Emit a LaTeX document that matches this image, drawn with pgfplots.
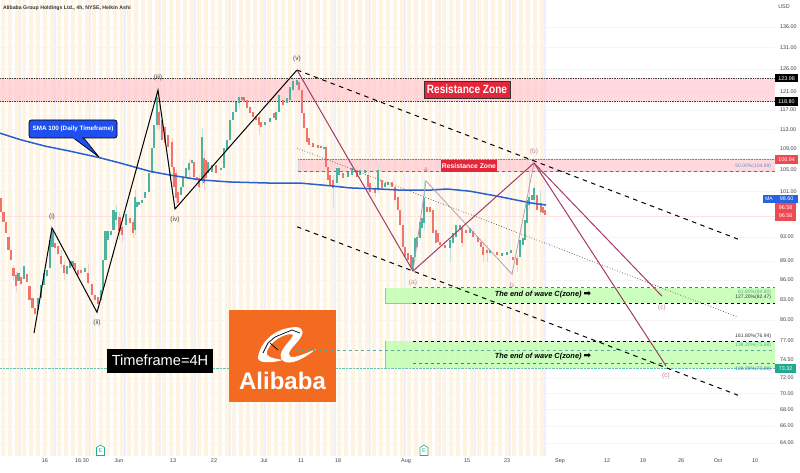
\documentclass[border=0pt]{standalone}
\usepackage{pgfplots}
\usepackage{pgfplotstable}
\usepackage{fontspec}
\setmainfont{Liberation Sans}
\newfontfamily\dv{DejaVu Sans}
\pgfplotsset{compat=1.18}
\definecolor{cG}{HTML}{4DB39F}
\definecolor{cR}{HTML}{F0736C}
\definecolor{wG}{HTML}{BFE5DC}
\definecolor{wR}{HTML}{F9CFCB}
\definecolor{sma}{HTML}{2A5FD0}
\definecolor{pur}{HTML}{A23A6C}
\definecolor{lpur}{HTML}{B89AAC}
\definecolor{fibb}{HTML}{3F78C9}
\definecolor{fibt}{HTML}{4FB0A0}
\definecolor{pinkz}{HTML}{FFC2CA}
\definecolor{greenz}{HTML}{C6FFB6}
\definecolor{tagr}{HTML}{EE4A52}
\definecolor{tagg}{HTML}{22A98F}
\definecolor{strip}{HTML}{FFF3E2}
\definecolor{stripb}{HTML}{EEF1FD}
\newcommand{\fs}[1]{\fontsize{#1}{#1}\selectfont}
\pgfplotstableread{
x hi lo
1 99.8 97.2
3.5 97.2 95.6
6 95.6 93.7
8.5 93.0 90.8
11 90.8 89.2
13.5 87.9 86.6
16 86.8 85.0
21 86.5 85.4
27 87.0 85.7
29.5 85.0 83.0
32.5 83.3 81.7
35 81.8 80.8
55 92.0 91.2
58 91.5 90.2
61 89.8 88.5
64 88.4 87.1
75 88.7 87.6
78 87.6 86.8
81 87.6 87.1
88 87.1 85.6
92 85.4 83.7
95 83.7 83.0
98 83.4 82.4
119.5 96.4 93.9
122 94.7 93.3
130 96.2 95.4
133 95.6 93.7
159 116.6 113.9
162 114.9 110.8
165 113.5 110.2
168 111.8 109.4
172 110.4 105.6
174 105.6 101.8
176 104.4 99.8
178 100.8 98.9
194 106.5 103.7
197 103.7 103.1
199 103.5 101.8
204 107.3 102.5
206 106.9 103.5
216 106.0 104.4
244 119.9 118.8
247 119.2 117.4
250 117.6 116.4
253 116.6 115.5
256 115.5 114.9
259 115.5 113.9
261 114.5 113.5
274 116.4 115.3
283 119.2 118.1
299 123.1 121.3
302 121.3 116.4
304 116.4 113.3
307 113.3 110.4
309 111.2 109.8
313 110.2 109.4
318 109.8 109.2
321 109.6 109.2
326 109.4 105.6
328 105.6 103.1
330 104.0 102.2
333 103.1 101.6
343 104.4 103.5
357 105.0 103.7
368 104.1 101.8
370 102.5 100.8
375 101.6 100.7
382 103.1 101.6
392 102.7 101.8
395 101.8 99.4
398 99.9 97.6
400 97.6 95.0
403 95.0 91.3
405 91.3 89.7
408 90.3 89.2
411 90.0 88.1
427 98.1 97.2
430 98.1 97.2
433 97.6 93.7
436 94.2 92.0
438 93.7 92.2
440 92.2 91.7
445 91.7 91.2
462 94.5 92.0
466 94.2 93.7
473 93.9 93.0
478 93.0 92.2
481 92.2 91.3
483 91.3 90.0
487 90.8 90.3
497 90.5 90.0
513 89.7 89.2
517 89.5 88.4
537 100.3 97.6
541 98.9 97.2
543 98.1 97.1
545 97.6 96.8
}\redt
\pgfplotstableread{
x hi lo
18.5 87.1 85.8
24 88.2 86.2
38 83.3 81.5
41 85.2 83.3
44 87.1 85.2
47 87.6 86.6
50 92.5 87.9
52.5 93.9 91.3
67 88.2 87.0
70 89.0 87.9
72.5 89.0 88.2
85 87.9 87.3
101 84.5 83.0
103 89.2 84.5
105.5 93.9 89.2
108 93.9 92.5
111 94.0 93.3
113.5 97.6 94.2
116 97.2 95.9
126 97.0 95.0
135 99.9 94.2
137 99.0 98.1
139 99.0 98.5
142 99.4 98.9
145 100.8 99.8
149 104.4 100.8
152 109.2 104.4
154 113.9 109.2
157 119.9 113.9
181 101.8 100.3
183 103.7 101.8
186 105.4 103.7
189 106.3 105.0
192 106.9 106.3
202 111.4 103.1
208 106.5 104.4
212 106.0 104.6
221 105.4 105.0
224 109.2 105.4
227 110.8 108.8
230 114.9 110.8
233 116.6 114.9
236 118.8 116.6
239 119.9 118.6
242 119.9 119.2
265 114.5 113.9
270 115.3 114.5
276 116.6 114.9
279 120.2 116.6
287 119.6 118.6
290 122.0 119.2
293 123.4 121.3
297 123.6 122.5
324 109.4 109.0
337 105.4 102.5
339 105.4 104.1
348 104.6 103.7
352 105.4 104.1
360 105.0 104.1
365 105.0 104.4
378 105.0 101.2
385 102.5 101.8
388 102.7 102.2
413 89.7 87.6
415 92.8 89.7
417 93.0 91.3
420 95.6 92.8
422 96.2 94.5
424 99.8 95.4
450 92.5 91.2
453 93.7 92.0
456 95.0 93.0
460 95.0 94.2
470 94.5 93.7
490 90.8 90.3
502 90.3 89.8
507 90.5 90.0
511 90.8 90.3
520 92.5 89.7
523 92.8 91.7
525 95.9 92.5
527 99.4 95.4
529 99.9 98.5
532 100.3 99.4
534 101.6 99.4
}\greent
\pgfplotstableread{
x hi lo
13.5 88.4 86.0
16 87.3 84.2
61 90.8 87.9
64 89.0 86.0
88 88.5 85.3
119.5 97.2 92.5
122 95.0 92.2
133 96.0 92.8
159 118.3 112.9
172 111.2 105.0
176 105.0 98.5
199 104.0 100.8
204 108.8 101.2
259 116.6 111.8
333 104.0 98.1
368 105.0 100.3
375 102.0 99.9
462 95.0 91.3
483 92.2 88.9
517 90.0 87.3
}\redw
\pgfplotstableread{
x hi lo
116 98.5 95.0
135 101.2 93.3
157 121.3 112.9
189 107.0 103.7
202 113.3 102.2
239 121.0 117.4
293 124.1 120.9
378 106.0 100.7
424 103.1 94.2
450 92.8 88.9
487 91.7 88.9
529 106.4 97.6
534 102.0 98.5
540 101.2 96.8
}\greenw
\begin{document}
\begin{tikzpicture}
\useasboundingbox (0,0) rectangle (800pt,472pt);
\begin{axis}[at={(0pt,16pt)},anchor=south west,
  width=775pt,height=456pt,scale only axis,
  ymode=log,xmin=0,xmax=775,ymin=62.52,ymax=142.82,
  axis line style={draw=none},
  major tick length=0pt,minor tick length=0pt,
  ytick={136,131,126,121,117,113,109,105,101,93,89,86,83,80,77,74.5,72,70,68,66,64},
  yticklabels={136.00,131.00,126.00,121.00,117.00,113.00,109.00,105.00,101.00,93.00,89.00,86.00,83.00,80.00,77.00,74.50,72.00,70.00,68.00,66.00,64.00},
  yticklabel pos=right,
  yticklabel style={font=\fs{5.4},text=black!75,anchor=west,xshift=1.5pt},
  ymajorgrids,grid style={draw=black!4,line width=.4pt},
  xtick={45,82,119,173,214,264,301,338,406,467,507,560,607,643,681,718,755},
  xticklabels={16,16:30,Jun,13,22,Jul,11,18,Aug,15,23,Sep,12,19,26,Oct,10},
  xticklabel style={font=\fs{5.4},text=black!75,anchor=center,yshift=-5pt},
  ]
% session stripes
\addplot[ycomb,no marks,color=strip,line width=3.8pt] coordinates {
(3,143)(10,143)(17,143)(24,143)(31,143)(38,143)(45,143)(52,143)(59,143)(66,143)(73,143)(80,143)(87,143)(94,143)(101,143)(108,143)(115,143)(122,143)(129,143)(136,143)(143,143)(150,143)(157,143)(164,143)(171,143)(178,143)(185,143)(192,143)(199,143)(206,143)(213,143)(220,143)(227,143)(234,143)(241,143)(248,143)(255,143)(262,143)(269,143)(276,143)(283,143)(290,143)(297,143)(304,143)(311,143)(318,143)(325,143)(332,143)(339,143)(346,143)(353,143)(360,143)(367,143)(374,143)(381,143)(388,143)(395,143)(402,143)(409,143)(416,143)(423,143)(430,143)(437,143)(444,143)(451,143)(458,143)(465,143)(472,143)(479,143)(486,143)(493,143)(500,143)(507,143)(514,143)(521,143)(528,143)(535,143)(542,143)};
\addplot[ycomb,no marks,color=stripb,line width=2.2pt] coordinates {
(20,143)(55,143)(90,143)(125,143)(160,143)(195,143)(230,143)(265,143)(300,143)(335,143)(370,143)(405,143)(440,143)(475,143)(510,143)(545,143)};
% last price lines
\addplot[color=red!12,line width=.5pt] coordinates {(0,96.56)(775,96.56)};
% zones
\addplot[draw=none,fill=pinkz,fill opacity=.62] coordinates {(0,118.8)(775,118.8)(775,123.98)(0,123.98)} -- cycle;
\addplot[draw=black!75,densely dotted,line width=.7pt] coordinates {(0,123.98)(775,123.98)};
\addplot[draw=black!75,densely dotted,line width=.7pt] coordinates {(0,118.8)(775,118.8)};
\addplot[draw=black!15,fill=pinkz,fill opacity=.62] coordinates {(298,104.69)(775,104.69)(775,106.94)(298,106.94)} -- cycle;
\addplot[draw=pur!80,densely dotted,line width=.6pt] coordinates {(298,106.94)(775,106.94)};
\addplot[draw=none,fill=greenz,fill opacity=.9] coordinates {(385,82.47)(775,82.47)(775,84.8)(385,84.8)} -- cycle;
\addplot[draw=black!30,line width=.5pt] coordinates {(385,84.8)(385,82.47)(413,82.47)};
\addplot[draw=none,fill=greenz,fill opacity=.9] coordinates {(385,73.32)(775,73.32)(775,76.94)(385,76.94)} -- cycle;
\addplot[draw=black!30,line width=.5pt] coordinates {(385,76.94)(385,73.32)};
% fib levels
\addplot[fibb,dashed,line width=.9pt] coordinates {(298,104.69)(775,104.69)};
\addplot[fibb,dashed,line width=.8pt] coordinates {(413,84.8)(775,84.8)};
\addplot[black,dashed,line width=.9pt] coordinates {(413,82.47)(775,82.47)};
\addplot[black,dashed,line width=.9pt] coordinates {(413,76.94)(775,76.94)};
\addplot[fibb,dashed,line width=.8pt] coordinates {(413,73.89)(775,73.89)};
\addplot[tagg!70,densely dotted,line width=.4pt] coordinates {(0,73.32)(775,73.32)};
% candles
\addplot[draw=none,mark=none,forget plot,error bars/.cd,y dir=plus,y explicit,error mark=none,error bar style={line width=.9pt,color=wR}] table[x=x,y=lo,y error expr=\thisrow{hi}-\thisrow{lo}] {\redw};
\addplot[draw=none,mark=none,forget plot,error bars/.cd,y dir=plus,y explicit,error mark=none,error bar style={line width=.9pt,color=wG}] table[x=x,y=lo,y error expr=\thisrow{hi}-\thisrow{lo}] {\greenw};
\addplot[draw=none,mark=none,forget plot,error bars/.cd,y dir=plus,y explicit,error mark=none,error bar style={line width=2.8pt,color=cR}] table[x=x,y=lo,y error expr=\thisrow{hi}-\thisrow{lo}] {\redt};
\addplot[draw=none,mark=none,forget plot,error bars/.cd,y dir=plus,y explicit,error mark=none,error bar style={line width=2.8pt,color=cG}] table[x=x,y=lo,y error expr=\thisrow{hi}-\thisrow{lo}] {\greent};
% SMA
\addplot[sma,line width=1.5pt] coordinates {(0,112.2)(20,110.9)(45,109.6)(70,108.6)(98,107.4)(120,106.3)(135,105.5)(150,104.7)(170,104.0)(200,103.1)(230,102.7)(270,102.5)(300,102.5)(330,102.0)(350,101.6)(380,101.4)(400,101.2)(430,101.2)(447,101.4)(470,101.0)(497,100.1)(530,98.9)(546,98.5)};
% channel
\addplot[black,dash pattern=on 4.5pt off 4.5pt,line width=1pt] coordinates {(297,125.8)(738,92.6)};
\addplot[black,dash pattern=on 4.5pt off 4.5pt,line width=1pt] coordinates {(297,94.7)(738,69.8)};
\addplot[black!70,dotted,line width=.7pt] coordinates {(297,109.2)(738,80.4)};
% waves
\addplot[lpur,line width=.8pt] coordinates {(413,87.4)(426,102.9)(512,86.9)(534,106.3)};
\addplot[black,line width=1pt] coordinates {(34,78.1)(52,94.5)(97,81.1)(158,121.3)(175,97.8)(297,125.8)};
\addplot[pur,line width=1pt] coordinates {(297,125.8)(413,87.4)(534,106.3)(662,83.5)};
\addplot[pur,line width=1pt] coordinates {(534,106.3)(666,73.6)};
\end{axis}
\begin{scope}[x=1pt,y=-1pt,yshift=472pt,inner sep=0pt,outer sep=0pt]
% logo
\fill[fill={rgb,255:red,243;green,107;blue,33}] (229,310) rectangle (336,402);
\fill[white] (258,357) .. controls (261,341) and (275,328) .. (296,327) .. controls (301,327) and (304,331) .. (302,335) .. controls (299,342) and (289,349) .. (289,354) .. controls (289,359) and (296,358) .. (316,349) .. controls (300,362) and (285,367) .. (281,358) .. controls (278,350) and (293,339) .. (293,335) .. controls (291,332) and (273,337) .. (267,351) .. controls (265,356) and (270,358) .. (283,360) .. controls (272,363) and (257,364) .. (258,357) -- cycle;
\draw[black,line width=.7pt] (263,353) -- (268,343) -- (275,337) -- (292,330) -- (300,333);
\draw[black,line width=.7pt] (270,343) -- (278,350);
\node[text=white] at (282.5,381) {\fs{24}\bfseries Alibaba};
% timeframe
\fill[black] (107,349) rectangle (213,373);
\node[text=white] at (160,360.5) {\fs{14.6}Timeframe=4H};
\end{scope}
\begin{axis}[at={(0pt,16pt)},anchor=south west,
  width=775pt,height=456pt,scale only axis,
  ymode=log,xmin=0,xmax=775,ymin=62.52,ymax=142.82,hide axis]
\addplot[fibt,dashed,line width=.8pt] coordinates {(295,75.68)(775,75.68)};
\end{axis}
\begin{scope}[x=1pt,y=-1pt,yshift=472pt,inner sep=0pt,outer sep=0pt]
\node[anchor=west,text=black!80] at (3,8) {\fs{5.2}\bfseries Alibaba Group Holdings Ltd., 4h, NYSE, Heikin Ashi};
\node[text=black!75] at (784,7) {\fs{5.4}USD};
% callout
\draw[black,fill={rgb,255:red,30;green,80;blue,240},line width=.7pt,line join=round] (72,137) -- (99,157) -- (83,137) -- cycle;
\draw[black,fill={rgb,255:red,30;green,80;blue,240},line width=.7pt,rounded corners=2.5pt] (29,120) rectangle (117,138);
\fill[fill={rgb,255:red,30;green,80;blue,240}] (73,136) rectangle (82,139);
\node[text=white] at (73,128.5) {\fs{6.3}\bfseries SMA 100 (Daily Timeframe)};
% zone labels
\draw[black!80,fill={rgb,255:red,228;green,38;blue,58},line width=.6pt] (424,81) rectangle (510,98);
\node[text=white,xscale=.84] at (467,89.5) {\fs{12}\bfseries Resistance Zone};
\fill[fill={rgb,255:red,228;green,38;blue,58}] (441,160) rectangle (497,172);
\node[text=white] at (469,166) {\fs{6.8}\bfseries Resistance Zone};
\node at (543,295) {\fs{7.4}\bfseries\itshape The end of wave C(zone) {\dv\fs{9}➡}};
\node at (543,356.5) {\fs{7.4}\bfseries\itshape The end of wave C(zone) {\dv\fs{9}➡}};
% fib labels
\node[anchor=east,text=fibb!80] at (771,166) {\fs{5}50.00\%(104.69)};
\node[anchor=east,text=fibt] at (771,292) {\fs{5}61.80\%(84.80)};
\node[anchor=east,text=black!80] at (771,297) {\fs{5}127.20\%(82.47)};
\node[anchor=east,text=black!80] at (771,336) {\fs{5}161.80\%(76.94)};
\node[anchor=east,text=fibt] at (771,345) {\fs{5}138.20\%(75.68)};
\node[anchor=east,text=fibb] at (771,369) {\fs{5}100.00\%(73.89)};
% wave labels
\foreach \xx/\yy/\ww in {52/217/(i),97/323/(ii),158/78/(iii),175/220/(iv),297/59/(v)}
  \node[text=black!75] at (\xx,\yy) {\fs{6.6}\ww};
\foreach \xx/\yy/\ww in {413/283/(a),534/152/(b),662/308/(c),666/376/(c),426/170/a,512/285/b}
  \node[text=pur!65] at (\xx,\yy) {\fs{6.6}\ww};
% price tags
\fill[black] (775,74) rectangle (798,82.5);
\node[text=white] at (786.5,78.2) {\fs{5.4}123.98};
\fill[black] (775,97.5) rectangle (798,106);
\node[text=white] at (786.5,101.7) {\fs{5.4}118.80};
\fill[tagr] (775,155.5) rectangle (798,164);
\node[text=white] at (786.5,159.7) {\fs{5.4}106.94};
\fill[fill={rgb,255:red,39;green,98;blue,224}] (763,195) rectangle (798,203);
\node[text=white] at (769,199) {\fs{5}MA};
\node[text=white] at (786.5,199) {\fs{5.4}98.60};
\fill[tagr] (775,203) rectangle (796,220.5);
\node[text=white] at (785.5,207.5) {\fs{5.4}96.58};
\node[text=white] at (785.5,216) {\fs{5.4}96.56};
\fill[tagg] (775,364) rectangle (796,372.5);
\node[text=white] at (785.5,368.2) {\fs{5.4}73.32};
% earnings icons
\foreach \xx in {100.5,424}{
  \draw[tagg,fill=white,line width=.6pt,line join=round] (\xx-4,447.5) -- (\xx,445) -- (\xx+4,447.5) -- (\xx+4,455.5) -- (\xx-4,455.5) -- cycle;
  \node[text=tagg] at (\xx,451) {\fs{5.5}E};
}
\end{scope}
\end{tikzpicture}
\end{document}
